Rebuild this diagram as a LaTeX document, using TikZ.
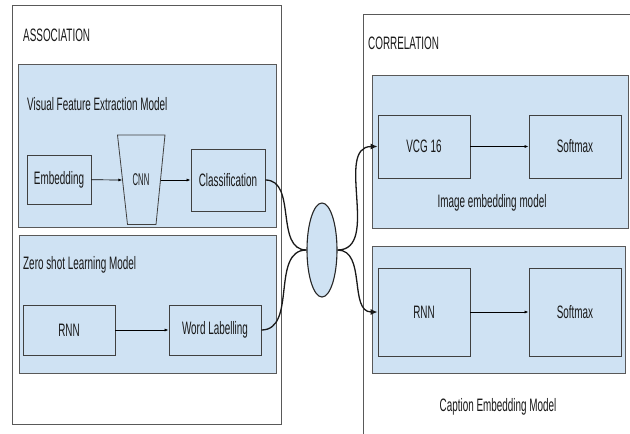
\documentclass[tikz,border=0pt]{standalone}
\usepackage{fontspec}
\newfontfamily\narrowsans[FakeStretch=0.55]{Liberation Sans}
\newfontfamily\narrowersans[FakeStretch=0.45]{Liberation Sans}
\usetikzlibrary{shapes.geometric,arrows.meta}
\definecolor{modelblue}{HTML}{CFE2F3}
\definecolor{edgegray}{HTML}{595959}

\begin{document}
\begin{tikzpicture}[x=1pt,y=-1pt,
  font=\narrowsans\fontsize{18}{21}\selectfont, text=black!90,
  group/.style={draw=edgegray, line width=0.7pt, anchor=north west, inner sep=0pt},
  model/.style={group, fill=modelblue, draw=black!65},
  block/.style={draw=black!75, line width=0.8pt, fill=modelblue, inner sep=0pt},
  title/.style={anchor=west, inner sep=0pt},
  link/.style={-{Latex[length=4pt,width=3pt]}, line width=0.7pt},
  wire/.style={line width=1.3pt, black!90}]
\useasboundingbox (0,0) rectangle (630,434);
\clip (0,0) rectangle (630,434);

\node (assoc) [group, minimum width=269pt, minimum height=419pt] at (12,5) {};
\node (correl) [group, minimum width=300pt, minimum height=450pt] at (363,14) {};
\node [title] at (23,35) {ASSOCIATION};
\node [title] at (368,43) {CORRELATION};

\node (visual) [model, minimum width=258pt, minimum height=163pt] at (18,64) {};
\node (zeroshot) [model, minimum width=257pt, minimum height=138pt] at (19,235) {};
\node (imgemb) [model, minimum width=256pt, minimum height=153pt] at (372,75) {};
\node (capemb) [model, minimum width=253pt, minimum height=127pt] at (372,246) {};

\node [title] at (27,104) {Visual Feature Extraction Model};
\node [title] at (23,265) {Zero shot Learning Model};
\node at (492,203) {Image embedding model};
\node at (498,407) {Caption Embedding Model};

\node (embed) [block, minimum width=64pt, minimum height=49pt] at (59,179.5) {Embedding};
\draw [block] (117.5,135) -- (165,135) -- (156,224.5) -- (127.5,224.5) -- cycle;
\node (cnn) [font=\narrowersans\fontsize{17}{19}\selectfont] at (141,180) {CNN};
\coordinate (cnnin) at (122.3,180);
\coordinate (cnnout) at (160.5,180);
\node (class) [block, minimum width=74pt, minimum height=62pt] at (228,180) {Classification};
\node (rnnA) [block, minimum width=92pt, minimum height=50pt] at (69,330) {RNN};
\node (words) [block, minimum width=92pt, minimum height=50pt] at (215,330) {Word Labelling};
\node (vcg) [block, minimum width=92pt, minimum height=63pt] at (424,146.5) {VCG 16};
\node (softA) [block, minimum width=92pt, minimum height=63pt] at (575,146.5) {Softmax};
\node (rnnB) [block, minimum width=92pt, minimum height=88pt] at (424,312) {RNN};
\node (softB) [block, minimum width=92pt, minimum height=88pt] at (575,312) {Softmax};

\node (hub) [ellipse, draw=black!85, line width=1.1pt, fill=modelblue, inner sep=0pt,
  minimum width=30pt, minimum height=94pt] at (322,250) {};

\draw [link] (embed) -- (cnnin);
\draw [link] (cnnout) -- (class);
\draw [link] (rnnA) -- (words);
\draw [link] (vcg) -- (softA);
\draw [link] (rnnB) -- (softB);

\draw [wire] (class.east) to[out=0, in=180] (hub.west);
\draw [wire] (words.east) to[out=0, in=180] (hub.west);
\draw [wire, -{Latex[length=7pt,width=6pt]}] (hub.east) to[out=0, in=180] (vcg.west);
\draw [wire, -{Latex[length=7pt,width=6pt]}] (hub.east) to[out=0, in=180] (rnnB.west);
\end{tikzpicture}
\end{document}
